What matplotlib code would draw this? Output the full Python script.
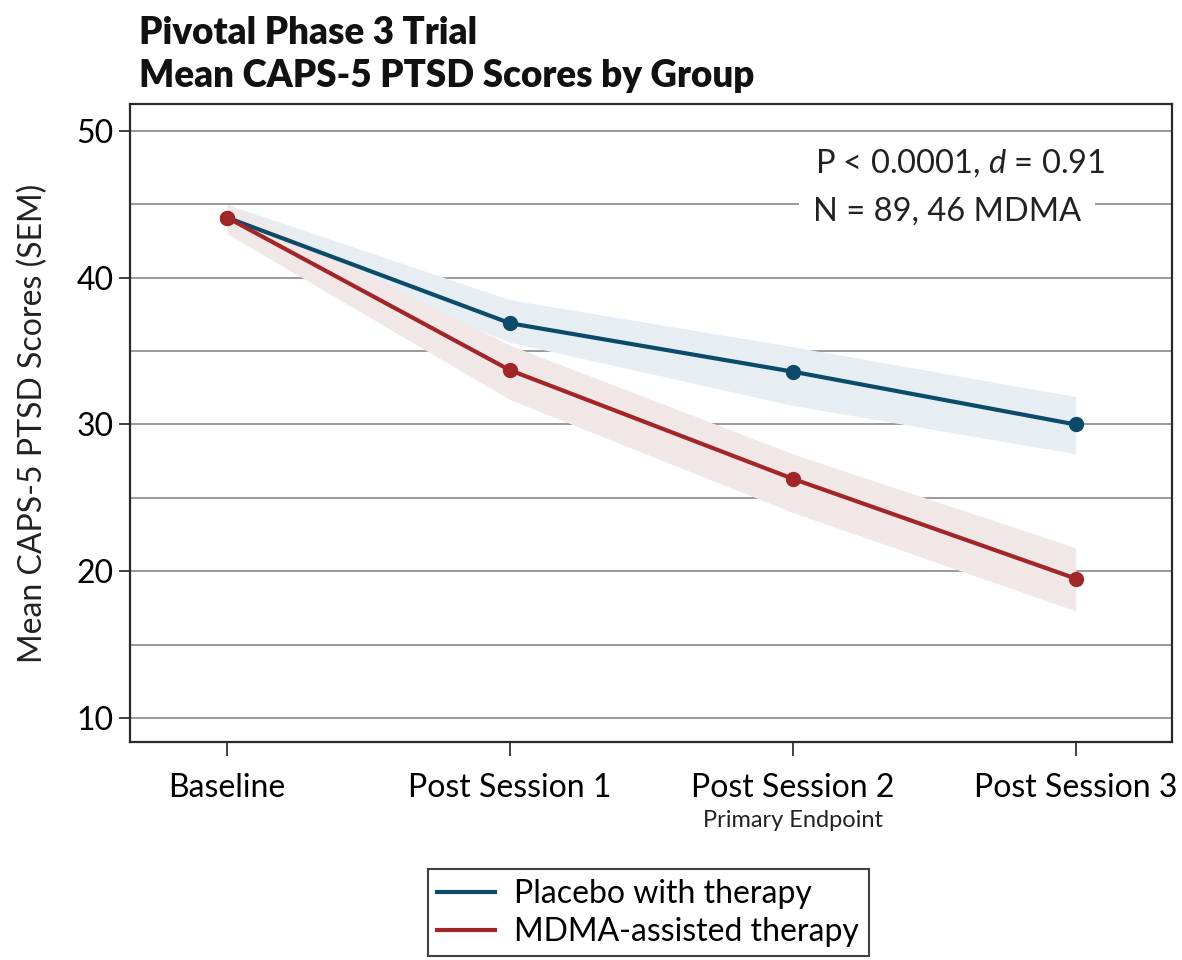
import numpy as np
import matplotlib
matplotlib.use('Agg')
import matplotlib.pyplot as plt
from matplotlib.lines import Line2D

plt.rcParams['font.family'] = ['Lato', 'DejaVu Sans']
plt.rcParams['mathtext.fontset'] = 'custom'
plt.rcParams['mathtext.it'] = 'Lato:italic'
plt.rcParams['mathtext.rm'] = 'Lato'

# data
visits = ['Baseline', 'Post Session 1', 'Post Session 2', 'Post Session 3']
placebo_mean = [44.1, 36.9, 33.6, 30.0]
placebo_hi = [45.0, 38.5, 35.3, 31.9]
placebo_lo = [43.3, 35.6, 31.3, 28.0]
mdma_mean = [44.1, 33.7, 26.3, 19.5]
mdma_hi = [45.0, 35.4, 28.0, 21.6]
mdma_lo = [43.0, 31.7, 24.0, 17.3]

blue = '#0c4a6a'
red = '#a02628'

fig = plt.figure(figsize=(11.82, 9.6), dpi=100)
ax = fig.add_axes([0.110, 0.227, 0.8815, 0.6647])

x = np.arange(len(visits))
ax.fill_between(x, placebo_lo, placebo_hi, color='#e7eef3', lw=0, zorder=2)
ax.fill_between(x, mdma_lo, mdma_hi, color='#f1e7e6', lw=0, zorder=2)
ax.plot(x, placebo_mean, color=blue, lw=3, marker='o', ms=10, zorder=4)
ax.plot(x, mdma_mean, color=red, lw=3, marker='o', ms=10, zorder=5)

ax.set_xlim(-0.343, 3.34)
ax.set_ylim(8.36, 51.84)
ax.set_yticks([10, 20, 30, 40, 50])
ax.set_yticks([15, 25, 35, 45], minor=True)
ax.tick_params(axis='y', which='minor', length=0)
ax.grid(axis='y', which='both', color='#9a9a9a', lw=1.4, zorder=1)
ax.set_axisbelow(True)

ax.set_xticks(x)
ax.set_xticklabels(visits, fontsize=23)
ax.tick_params(axis='x', length=10, width=1.3, color='#333333', pad=12)
ax.tick_params(axis='y', length=8, width=1.3, color='#333333', labelsize=23, pad=4)
for s in ax.spines.values():
    s.set_color('#2a2a2a')
    s.set_linewidth(1.6)

ax.set_ylabel('Mean CAPS-5 PTSD Scores (SEM)', fontsize=23, color='#222222', labelpad=20)
ax.text(2, -0.107, 'Primary Endpoint', transform=ax.get_xaxis_transform(),
        ha='center', va='top', fontsize=17, color='#222222')

ax.text(0.797, 0.9075, 'P < 0.0001, $\\mathit{d}$ = 0.91', transform=ax.transAxes,
        ha='center', va='center', fontsize=23.5, color='#222222', zorder=6)
ax.text(0.784, 0.832, 'N = 89, 46 MDMA', transform=ax.transAxes,
        ha='center', va='center', fontsize=23.5, color='#222222', zorder=6,
        bbox=dict(facecolor='white', edgecolor='none', pad=10))

fig.text(0.118, 0.966, 'Pivotal Phase 3 Trial', fontsize=26.5, fontweight='heavy',
         ha='left', va='center', color='#111111')
fig.text(0.118, 0.921, 'Mean CAPS-5 PTSD Scores by Group', fontsize=26.5,
         fontweight='heavy', ha='left', va='center', color='#111111')

handles = [Line2D([], [], color=blue, lw=3), Line2D([], [], color=red, lw=3)]
labels = ['Placebo with therapy', 'MDMA-assisted therapy']
leg = fig.legend(handles, labels, loc='upper left', bbox_to_anchor=(0.362, 0.0945),
                 borderaxespad=0, fontsize=23, frameon=True, fancybox=False,
                 edgecolor='#111111', handlelength=1.8, handletextpad=0.6,
                 borderpad=0.3, labelspacing=0.25)
leg.get_frame().set_linewidth(1.5)

fig.savefig('out.png', dpi=100)
